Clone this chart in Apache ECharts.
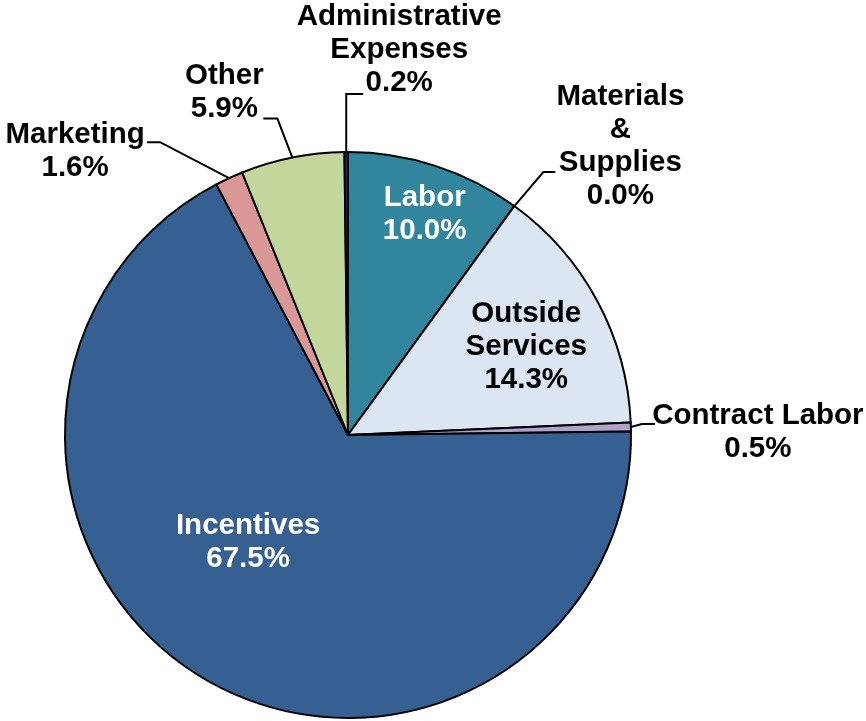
<!DOCTYPE html>
<html><head><meta charset="utf-8">
<script src="https://cdn.jsdelivr.net/npm/echarts@6/dist/echarts.min.js"></script>
<style>html,body{margin:0;padding:0;background:#fff}#c{width:866px;height:721px}</style>
</head><body><div id="c"></div>
<script>
// ---- data ----
const categories = ['Labor', 'Materials\n&\nSupplies', 'Outside\nServices', 'Contract Labor', 'Incentives', 'Marketing', 'Other', 'Administrative\nExpenses'];
const values = [10.0, 0.0, 14.3, 0.5, 67.5, 1.6, 5.9, 0.2];

// ---- styles ----
const colors = ['#31859C', '#4F81BD', '#DCE6F2', '#B3A2C7', '#376092', '#D99795', '#C3D69B', '#17375E'];
const insideIdx = [0, 2, 4];
const insideTextColor = {0: '#fff', 2: '#000', 4: '#fff'};
const CENTER = [348, 435], RADIUS = 283;
// leader-line geometry relative to the library's arc anchor
const placement = {
  1: {elbow: [29, -34], tail: 12, text: [65, -26]},
  3: {elbow: [11, -3], tail: 13, text: [103, 8]},
  5: {elbow: [-69, -36], tail: -13, text: [-72, 9]},
  6: {elbow: [-15, -39], tail: -14, text: [-39, -26]},
  7: {elbow: [0, -58], tail: 17, text: [36, -44]}
};
const insideShift = {0: [32, -83], 2: [51, -20], 4: [-26, -17]};

const total = values.reduce((a, b) => a + b, 0);
function arcAnchor(i) {
  let before = 0;
  for (let k = 0; k < i; k++) before += values[k];
  const mid = (before + values[i] / 2) / total * Math.PI * 2;
  return [CENTER[0] + RADIUS * Math.sin(mid), CENTER[1] - RADIUS * Math.cos(mid)];
}

const data = categories.map((name, i) => {
  const inside = insideIdx.includes(i);
  return {
    name: name,
    value: values[i],
    itemStyle: {color: colors[i]},
    label: inside ? {position: 'inside', color: insideTextColor[i]} : {position: 'outside', color: '#000'},
    labelLine: {show: !inside}
  };
});

const chart = echarts.init(document.getElementById('c'), null, {renderer: 'canvas'});
chart.setOption({
  animation: false,
  backgroundColor: '#fff',
  series: [{
    type: 'pie',
    silent: true,
    center: CENTER,
    radius: RADIUS,
    startAngle: 90,
    clockwise: true,
    avoidLabelOverlap: false,
    minShowLabelAngle: 0,
    itemStyle: {borderColor: '#000', borderWidth: 2},
    label: {
      show: true,
      fontFamily: 'Liberation Sans, Arial, sans-serif',
      fontWeight: 'bold',
      fontSize: 29.5,
      lineHeight: 33,
      align: 'center',
      formatter: p => p.name + '\n' + p.value.toFixed(1) + '%'
    },
    labelLine: {show: true, length: 10, length2: 10, smooth: false, lineStyle: {color: '#000', width: 2}},
    labelLayout: function (p) {
      const i = p.dataIndex;
      if (insideShift[i]) return {dx: insideShift[i][0], dy: insideShift[i][1], align: 'center', verticalAlign: 'middle'};
      const c = placement[i];
      if (!c) return {};
      const a = (p.labelLinePoints && p.labelLinePoints[0]) ? p.labelLinePoints[0].slice() : arcAnchor(i);
      const e = [a[0] + c.elbow[0], a[1] + c.elbow[1]];
      const t = [e[0] + c.tail, e[1]];
      return {x: t[0] + c.text[0], y: t[1] + c.text[1], align: 'center', verticalAlign: 'middle', labelLinePoints: [a, e, t]};
    },
    data: data
  }]
});
</script></body></html>
